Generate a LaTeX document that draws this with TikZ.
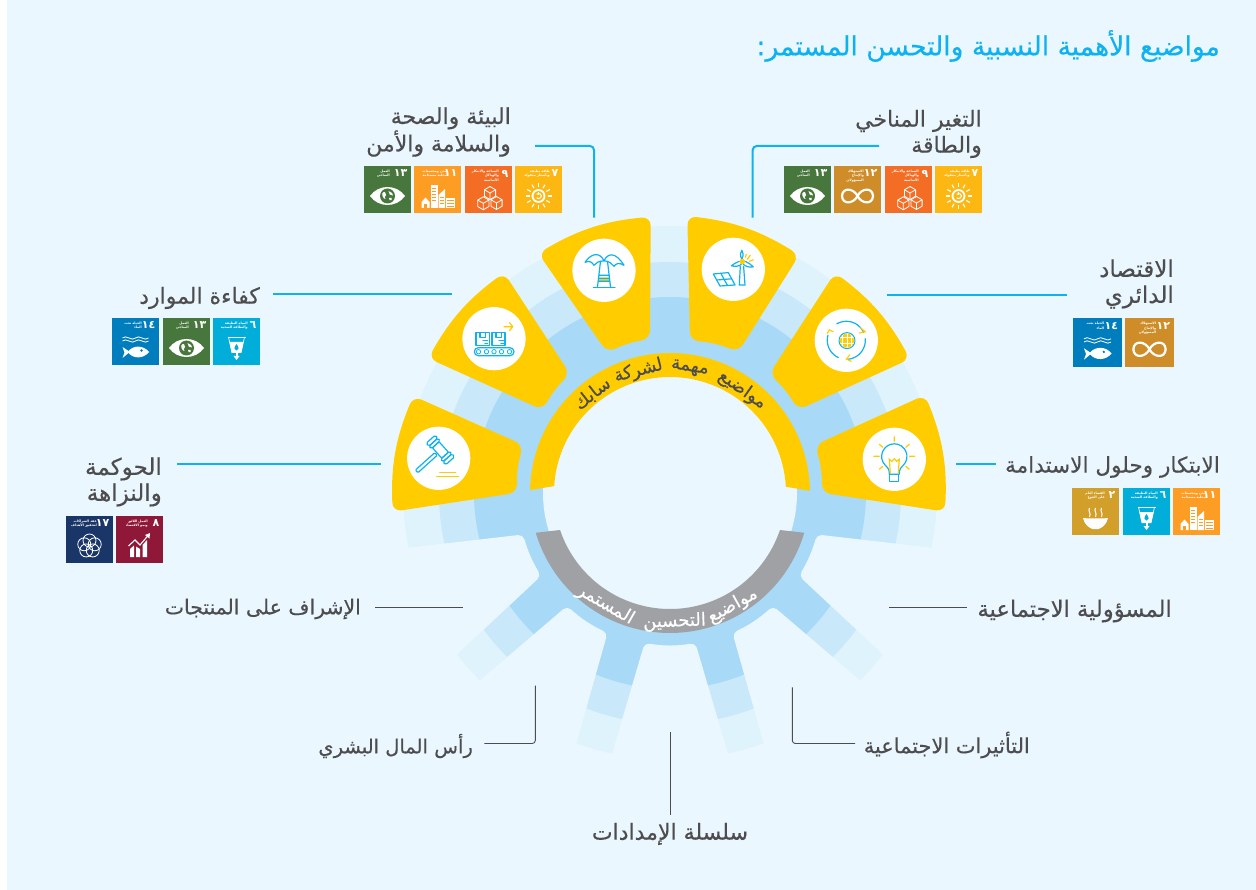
\documentclass[tikz,border=0pt]{standalone}
\usepackage{fontspec}
\newfontfamily\arfont[Script=Arabic,FakeBold=0.35,BoldFeatures={FakeBold=0}]{DejaVu Sans}
\TeXXeTstate=1
\newcommand\ar[1]{\arfont\beginR #1\endR}
\definecolor{panel}{HTML}{EBF7FE}
\definecolor{ringa}{HTML}{DFF3FC}
\definecolor{ringb}{HTML}{C9E8FA}
\definecolor{ringc}{HTML}{A8DAF7}
\definecolor{gold}{HTML}{FFCC00}
\definecolor{greyband}{HTML}{A0A1A5}
\definecolor{skyline}{HTML}{0FB2F0}
\definecolor{inktext}{HTML}{4D4D4F}
\definecolor{sdgtwo}{HTML}{D19F2A}
\definecolor{sdgsix}{HTML}{00AED9}
\definecolor{sdgseven}{HTML}{FDB713}
\definecolor{sdgeight}{HTML}{8F1838}
\definecolor{sdgnine}{HTML}{F36D25}
\definecolor{sdgeleven}{HTML}{FD9D24}
\definecolor{sdgtwelve}{HTML}{CF8D2A}
\definecolor{sdgthirteen}{HTML}{48773E}
\definecolor{sdgfourteen}{HTML}{007DBC}
\definecolor{sdgseventeen}{HTML}{1A3668}
\newcount\sdgc
\newcommand\sdg[8]{%
 \global\advance\sdgc by 1
 \begin{scope}[shift={(#1,#2)},scale=#3/47]
  \fill[#4] (0,0) rectangle (47,47);
  \node[sdgnum,anchor=east] (sn\the\sdgc) at (43.5,7.5) {\ar{#5}};
  \node[sdgcap,anchor=north east] (sc\the\sdgc) at (#6,3.4) {#7};
  \begin{scope}[shift={(23.5,30)}]
   \def\sdgcol{#4}
   #8
  \end{scope}
 \end{scope}}
\tikzset{
 x=1pt,y=-1pt,
 sdgnum/.style={text=white,font=\fontsize{11}{11}\bfseries\selectfont,inner sep=0pt},
 sdgcap/.style={text=white,font=\fontsize{3.3}{4.8}\bfseries\selectfont,inner sep=0pt,align=right},
 petal/.style={fill=gold,rounded corners=9pt},
 disk/.style={fill=white},
 icb/.style={draw=skyline,line width=1.2pt,line join=round,line cap=round},
 icy/.style={draw=gold,line width=1.2pt,line cap=round},
 gap/.style={fill=panel,rounded corners=5pt},
 lead/.style={draw=skyline,line width=2pt,rounded corners=4pt},
 thin lead/.style={draw=inktext,line width=0.9pt,rounded corners=3pt},
 lab/.style={text=inktext,font=\fontsize{22}{26}\selectfont,inner sep=0pt,align=right},
 arcword/.style={font=\fontsize{18}{18}\selectfont,inner sep=0pt},
}
\newcommand\picsun{%
 \draw[white,line width=1.8pt] (0,0) circle (6);
 \draw[white,line width=1pt] (-1.8,-1.6) arc[start angle=-140,end angle=140,radius=2.6];
 \draw[white,line width=1pt] (0,-3.6) -- (0,-0.8);
 \foreach \a in {0,30,...,330}{\draw[white,line width=1.1pt] (\a:9) -- (\a:13);}}
\newcommand\oneCube[2]{%
 \draw[white,line width=.8pt,line join=round,fill=\sdgcol] (#1,#2-6.5)--(#1+5.6,#2-3.2)--(#1+5.6,#2+3.2)--(#1,#2+6.5)--(#1-5.6,#2+3.2)--(#1-5.6,#2-3.2)--cycle;
 \draw[white,line width=.8pt] (#1-5.6,#2-3.2)--(#1,#2)--(#1+5.6,#2-3.2) (#1,#2)--(#1,#2+6.5);}
\newcommand\piccubes{\oneCube{1.5}{-3}\oneCube{-5.2}{7.3}\oneCube{8}{7}}
\newcommand\picinf{%
 \draw[white,line width=2.2pt] (0,0) .. controls (4,-8) and (15,-9) .. (15.5,0) .. controls (15,9) and (4,8) .. (0,0) .. controls (-4,-8) and (-15,-9) .. (-15.5,0) .. controls (-15,9) and (-4,8) .. (0,0);}
\newcommand\piceye{%
 \fill[white] (-17.5,0) .. controls (-9,-12) and (9,-12) .. (17.5,0) .. controls (9,12) and (-9,12) .. cycle;
 \fill[\sdgcol] (0,0) circle (7.5);
 \fill[white] (-5,-3) .. controls (-3,-5.5) and (-1,-3) .. (-1.5,-1) .. controls (-3,0) and (-3,2) .. (-2,3) .. controls (-4,3) and (-6,-1) .. cycle;
 \fill[white] (1,-5) .. controls (4,-4) and (6,-2) .. (5.5,-.5) .. controls (3,0) and (1,-2) .. cycle;
 \fill[white] (1.5,2) .. controls (4,1) and (5,2) .. (4,4) .. controls (3,5) and (1,4) .. cycle;}
\newcommand\piccity{%
 \fill[white] (-16,12) -- (-16,6) -- (-12,1.5) -- (-8,6) -- (-8,12) -- cycle;
 \fill[\sdgcol] (-13.5,12) rectangle (-10.5,8);
 \fill[white] (-7,12) rectangle (0,-11);
 \foreach \yy in {-8,-5,-2,1,4}{\fill[\sdgcol] (-5.5,\yy) rectangle (-1.5,\yy+1.2);}
 \fill[white] (1,12) -- (1,-1) -- (7.5,-7) -- (7.5,12) -- cycle;
 \foreach \yy in {1,4,7}{\fill[\sdgcol] (2.5,\yy) rectangle (6,\yy+.9);}
 \fill[white] (8.5,12) rectangle (17,2);
 \foreach \yy in {4,7,10}{\fill[\sdgcol] (9.5,\yy) rectangle (16,\yy+.8);}}
\newcommand\picglass{%
 \draw[white,line width=.9pt] (-9,-11) -- (9,-11);
 \draw[white,line width=.7pt] (-8,-11) -- (-4.5,5) (8,-11) -- (4.5,5);
 \fill[white] (-7,-6) -- (7,-6) -- (4.5,5) -- (-4.5,5) -- cycle;
 \fill[\sdgcol] (0,-4) .. controls (3,-0.5) and (2.5,2.5) .. (0,2.5) .. controls (-2.5,2.5) and (-3,-0.5) .. cycle;
 \fill[white] (-1,5) rectangle (1,8);
 \fill[white] (-3,8) -- (3,8) -- (0,12) -- cycle;}
\newcommand\picfish{%
 \foreach \yy in {-10,-7}{\draw[white,line width=.8pt] (-13,\yy) .. controls (-11,\yy-1.5) and (-9,\yy-1.5) .. (-6.5,\yy) .. controls (-4,\yy+1.5) and (-2,\yy+1.5) .. (0,\yy) .. controls (2,\yy-1.5) and (4,\yy-1.5) .. (6.5,\yy) .. controls (9,\yy+1.5) and (11,\yy+1.5) .. (13,\yy);}
 \fill[white] (-13,-1) -- (-7,3) .. controls (-2,-3) and (8,-3) .. (13.5,4) .. controls (8,11) and (-2,11) .. (-7,5) -- (-13,10) -- (-11,4.5) -- cycle;
 \fill[\sdgcol] (6,2.5) circle (1.3);}
\newcommand\picchart{%
 \fill[white] (-9.5,3) -- (-5.5,-0.5) -- (-5.5,11) -- (-9.5,11) -- cycle;
 \fill[white] (-3.5,0.5) -- (0.5,3) -- (0.5,11) -- (-3.5,11) -- cycle;
 \fill[white] (3,-1) -- (7.5,-6) -- (7.5,11) -- (3,11) -- cycle;
 \draw[white,line width=1.1pt] (-11,0) -- (-4.5,-6) -- (0.5,-1) -- (9,-11);
 \fill[white] (10.5,-13) -- (10,-7.5) -- (5.5,-11) -- cycle;}
\newcommand\picflower{%
 \foreach \a in {-90,-18,54,126,198}{\draw[white,line width=.8pt] (\a:5.5) circle (6.5);}}
\newcommand\picbowl{%
 \fill[white] (-12.5,0) .. controls (-10,.6) and (10,.6) .. (12.5,0) .. controls (11,7) and (6,10) .. (3,11) -- (-3,11) .. controls (-6,10) and (-11,7) .. cycle;
 \foreach \xx in {-6,0,6}{\draw[white,line width=1pt] (\xx,-10) .. controls (\xx-2,-7) and (\xx+2,-5) .. (\xx,-1);}}
\begin{document}
\begin{tikzpicture}
\useasboundingbox (0,0) rectangle (1256,890);
\fill[white] (0,0) rectangle (1256,890);
\fill[panel] (7,0) rectangle (1256,890);
\coordinate (c) at (670,493);
% ring
\fill[ringa] (c) circle (267);
\fill[ringb] (c) circle (231);
\fill[ringc] (c) circle (196);
\fill[panel] (c) circle (127);
% gaps between spokes
\fill[gap] (523,534.5) to[bend right=7] (541,576) -- (420,689) -- (380,551) -- cycle;
\fill[gap] (567,606) to[bend right=8] (607.5,633) -- (566,780) -- (450,706) -- cycle;
\fill[gap] (644.6,643) to[bend right=9] (695.4,643) -- (738.6,790) -- (601.4,790) -- cycle;
\fill[gap] (732.5,633) to[bend right=8] (773,606) -- (890,706) -- (774,780) -- cycle;
\fill[gap] (799,576) to[bend right=7] (817,534.5) -- (960,551) -- (920,689) -- cycle;
% petals
\fill[petal] (687.3,216) to[bend left=12.5] (799.3,255) -- (738.3,352) to[bend right=9] (690,340.7) -- cycle;
\fill[petal] (835,272.7) to[bend left=12] (910,359) -- (798,410) to[bend right=8.5] (769.3,374) -- cycle;
\fill[petal] (925,395) to[bend left=12.5] (945,511.7) -- (821.7,492.7) to[bend right=9] (815,445) -- cycle;
\fill[petal] (538.3,253.3) to[bend left=12.5] (650.7,216.7) -- (650,339.3) to[bend right=9] (607.3,352.7) -- cycle;
\fill[petal] (428.3,358.3) to[bend left=12] (504,272.7) -- (570,374) to[bend right=8.5] (542.7,410) -- cycle;
\fill[petal] (392.7,511.7) to[bend left=12.5] (413.3,396) -- (523.3,445) to[bend right=9] (517.3,492.7) -- cycle;
% yellow and grey bands
\fill[gold] plot[domain=-178.8:-0.9,samples=80] ({670+140*cos(\x)},{493+140*sin(\x)}) -- plot[domain=-3.1:-176.6,samples=80] ({670+116*cos(\x)},{493+116*sin(\x)}) -- cycle;
\fill[greyband] plot[domain=16.5:163.5,samples=80] ({670+140*cos(\x)},{493+140*sin(\x)}) -- plot[domain=161.4:18.6,samples=80] ({670+116*cos(\x)},{493+116*sin(\x)}) -- cycle;
% curved words
\path (c) ++(-55:126) node[arcword,text=inktext,rotate=-35] (w1) {\ar{مواضيع}};
\path (c) ++(-81:126) node[arcword,text=inktext,rotate=-9] (w2) {\ar{مهمة}};
\path (c) ++(-104.5:126) node[arcword,text=inktext,rotate=14.5] (w3) {\ar{لشركة}};
\path (c) ++(-128:126) node[arcword,text=inktext,rotate=38] (w4) {\ar{سابك}};
\path (c) ++(61:129) node[arcword,text=white,rotate=29] (g1) {\ar{مواضيع}};
\path (c) ++(88:129) node[arcword,text=white,rotate=2] (g2) {\ar{التحسين}};
\path (c) ++(120:129) node[arcword,text=white,rotate=-30] (g3) {\ar{المستمر}};
% icon discs
\fill[disk] (733.3,269.3) circle (31.6);
\fill[disk] (604,270.3) circle (31.6);
\fill[disk] (494,338.7) circle (31.6);
\fill[disk] (438.7,458.3) circle (31.6);
\fill[disk] (846.3,340.3) circle (31.6);
\fill[disk] (894.3,459.3) circle (31.6);
% palm
\begin{scope}[shift={(604,270.3)}]
 \fill[gold] (-4.7,8) rectangle (4.7,11);
 \draw[icb] (-3.5,-9) -- (-6.5,16.5) (3.5,-9) -- (6.5,16.5) (-5,5) -- (5,5) (-4.6,8) -- (4.6,8) (-5,11) -- (5,11);
 \draw[icb] (-10.7,17) -- (11,17);
 \draw[icb] (0,-9.5) .. controls (-4,-18) and (-12,-18) .. (-19,-8) .. controls (-14,-10) and (-12,-8) .. (-10,-5) .. controls (-8,-8) and (-5,-9) .. (0,-9.5);
 \draw[icb] (0,-9.5) .. controls (4,-18) and (12,-18) .. (20,-5) .. controls (15,-8) and (12,-7) .. (10,-4) .. controls (8,-7) and (5,-9) .. (0,-9.5);
\end{scope}
% turbine and panel
\begin{scope}[shift={(733.3,269.3)}]
 \draw[icb] (7,-3) -- (6,15.7) -- (11.7,15.7) -- (10.3,-3);
 \draw[icb] (8.5,-10) .. controls (6.5,-14) and (7,-17) .. (8.5,-19) .. controls (10,-17) and (10.5,-14) .. (8.5,-10);
 \draw[icb] (6,-8) .. controls (3,-6.5) and (0,-5.5) .. (-2,-3.5) .. controls (2,-2.5) and (6,-3) .. (8,-5);
 \draw[icb] (12,-8) .. controls (15,-6) and (18,-5) .. (20,-2.5) .. controls (16,-1.5) and (12,-3) .. (10,-5);
 \fill[gold] (9,-7.7) circle (2.8);
 \draw[icy] (14,-10) -- (17,-14) (16,-8) -- (20,-9.5) (12,-12) -- (13,-15);
 \draw[icb] (-20,4.7) -- (-5,3.3) -- (1.7,15.7) -- (-13.3,16.7) -- cycle;
 \draw[icb] (-12.5,4) -- (-5.8,16.2) (-16.6,10.7) -- (-1.6,9.5);
\end{scope}
% globe and arrows
\begin{scope}[shift={(846.3,340.3)}]
 \draw[icb,line width=1pt] (.7,.3) circle (8);
 \begin{scope}
  \clip (.7,.3) circle (7);
  \fill[gold] (.7,.3) circle (7);
  \draw[white,line width=.7pt] (-6.5,-2.5) -- (8,-2.5) (-6.5,3) -- (8,3) (.7,-7) -- (.7,8) (-3.5,-7) -- (-3.5,8) (5,-7) -- (5,8);
 \end{scope}
 \draw[icb] plot[domain=-120:-25,samples=20] (\x:19);
 \draw[icb] plot[domain=-5:85,samples=20] (\x:19);
 \draw[icb] plot[domain=115:195,samples=20] (\x:19);
 \draw[icy,line width=1.1pt] (14,-12.5) -- (19,-8.5) -- (13,-7.3);
 \draw[icy,line width=1.1pt] (3.5,14.5) -- (0,18.8) -- (5,21);
 \draw[icy,line width=1.1pt] (-19,-6.5) -- (-17,-10.5) -- (-13,-8.5);
\end{scope}
% bulb
\begin{scope}[shift={(894.3,459.3)}]
 \draw[icb] (-5,15) .. controls (-5,10) and (-6,9) .. (-9,6) .. controls (-17,-2) and (-11,-15.5) .. (0,-15.5) .. controls (11,-15.5) and (17,-2) .. (9,6) .. controls (6,9) and (5,10) .. (5,15) -- cycle;
 \draw[icb] (-4.5,15) rectangle (4.5,22);
 \draw[icy] (-4,14) -- (-5,0) -- (-2.5,2) -- (0,-.5) -- (2.5,2) -- (5,0) -- (4,14);
 \draw[icy] (0,-22.5) -- (0,-18) (-15,-15) -- (-11.5,-12) (15,-15) -- (11.5,-12) (-20.5,-3) -- (-15,-3) (20.5,-3) -- (15,-3) (-15,10) -- (-11.5,7) (15,10) -- (11.5,7);
\end{scope}
% conveyor
\begin{scope}[shift={(494,338.7)}]
 \draw[icb] (-18,-6) rectangle (-4.7,6.7);
 \draw[icb] (-2,-6) rectangle (11,6.7);
 \draw[icb] (-14,-6) -- (-14,-1.5) -- (-8.5,-1.5) -- (-8.5,-6) (2,-6) -- (2,-1.5) -- (7.5,-1.5) -- (7.5,-6);
 \draw[icb] (-11,2) -- (-6.5,2) (-9,4.5) -- (-6.5,4.5) (5,2) -- (9.5,2) (7,4.5) -- (9.5,4.5);
 \draw[icb,rounded corners=4pt] (-19.7,9) rectangle (20,17);
 \foreach \xx in {-15.5,-7.5,0,7.5,15.5}{\draw[icb,line width=.8pt] (\xx,13) circle (2.2);}
 \draw[icy] (10,-12) -- (18.7,-12) (15.5,-16) -- (18.7,-12) -- (15.5,-8);
\end{scope}
% gavel
\begin{scope}[shift={(438.7,458.3)}]
 \begin{scope}[shift={(1.7,-8.3)},rotate=42]
  \draw[icb,rounded corners=1pt] (-32,-1.8) rectangle (-6,1.8);
  \draw[icb,rounded corners=1pt] (-4.5,-7) rectangle (4.5,7);
  \draw[icb,rounded corners=1.5pt] (-6,-10.5) rectangle (6,-7);
  \draw[icb,rounded corners=1.5pt] (-6,-14.5) rectangle (6,-10.5);
  \draw[icb,rounded corners=1.5pt] (-6,7) rectangle (6,10.5);
  \draw[icb,rounded corners=1.5pt] (-6,10.5) rectangle (6,14.5);
 \end{scope}
 \draw[icy] (1,14.3) -- (17,14.3) (-2,18.3) -- (20,18.3);
\end{scope}
% connectors
\coordinate (ca1) at (752.7,217.7); \coordinate (ca2) at (752.7,146); \coordinate (ca3) at (879,146);
\coordinate (cb1) at (535,146); \coordinate (cb2) at (594,146); \coordinate (cb3) at (594,217.7);
\coordinate (cc1) at (887,295.3); \coordinate (cc2) at (1067,295.3);
\coordinate (cd1) at (273,294); \coordinate (cd2) at (452,294);
\coordinate (ce1) at (177,464); \coordinate (ce2) at (381,464);
\coordinate (cf1) at (956,464); \coordinate (cf2) at (996,464);
\coordinate (cg1) at (889,607.5); \coordinate (cg2) at (967,607.5);
\coordinate (ch1) at (375,607.5); \coordinate (ch2) at (463,607.5);
\coordinate (ci1) at (535.3,685.7); \coordinate (ci2) at (535.3,743.5); \coordinate (ci3) at (484.3,743.5);
\coordinate (cj1) at (792.3,687.3); \coordinate (cj2) at (792.3,743.5); \coordinate (cj3) at (855,743.5);
\coordinate (ck1) at (670,732); \coordinate (ck2) at (670,815);
\draw[lead] (ca1) -- (ca2) -- (ca3);
\draw[lead] (cb1) -- (cb2) -- (cb3);
\draw[lead] (cc1) -- (cc2);
\draw[lead] (cd1) -- (cd2);
\draw[lead] (ce1) -- (ce2);
\draw[lead] (cf1) -- (cf2);
\draw[thin lead] (cg1) -- (cg2);
\draw[thin lead] (ch1) -- (ch2);
\draw[thin lead] (ci1) -- (ci2) -- (ci3);
\draw[thin lead] (cj1) -- (cj2) -- (cj3);
\draw[thin lead] (ck1) -- (ck2);
% texts
\node[text=skyline,font=\fontsize{26.5}{28}\selectfont,inner sep=0pt,anchor=east] (title) at (1220,46) {\ar{مواضيع الأهمية النسبية والتحسن المستمر:}};
\node[lab,anchor=east] (t1) at (982,134) {\ar{التغير المناخي}\\\ar{والطاقة}};
\node[lab,anchor=east] (t2) at (511,132) {\ar{البيئة والصحة}\\\ar{والسلامة والأمن}};
\node[lab,anchor=east,font=\fontsize{23}{26}\selectfont] (t3) at (1174,284) {\ar{الاقتصاد}\\\ar{الدائري}};
\node[lab,anchor=east] (t4) at (260,298) {\ar{كفاءة الموارد}};
\node[lab,anchor=east,font=\fontsize{21.6}{26}\selectfont] (t5) at (1220,467) {\ar{الابتكار وحلول الاستدامة}};
\node[lab,anchor=east,font=\fontsize{23}{26}\selectfont] (t6) at (162,482) {\ar{الحوكمة}\\\ar{والنزاهة}};
\node[lab,anchor=east,font=\fontsize{22.6}{26}\selectfont] (t7) at (1172,611) {\ar{المسؤولية الاجتماعية}};
\node[lab,anchor=east,font=\fontsize{20.4}{26}\selectfont] (t8) at (361,609) {\ar{الإشراف على المنتجات}};
\node[lab,anchor=east,font=\fontsize{20.9}{26}\selectfont] (t9) at (1030,745) {\ar{التأثيرات الاجتماعية}};
\node[lab,anchor=east,font=\fontsize{19.5}{26}\selectfont] (t10) at (473,746) {\ar{رأس المال البشري}};
\node[lab] (t11) at (670,834) {\ar{سلسلة الإمدادات}};
% SDG tiles
\newcommand\tileSeven[2]{\sdg{#1}{#2}{47}{sdgseven}{٧}{35}{\ar{طاقة نظيفة}\\\ar{وبأسعار معقولة}}{\picsun}}
\newcommand\tileNine[2]{\sdg{#1}{#2}{47}{sdgnine}{٩}{34}{\ar{الصناعة والابتكار}\\\ar{والهياكل}\\\ar{الأساسية}}{\piccubes}}
\newcommand\tileTwelve[3]{\sdg{#1}{#2}{#3}{sdgtwelve}{١٢}{30}{\ar{الاستهلاك}\\\ar{والإنتاج}\\\ar{المسؤولان}}{\picinf}}
\newcommand\tileThirteen[2]{\sdg{#1}{#2}{47}{sdgthirteen}{١٣}{26}{\ar{العمل}\\\ar{المناخي}}{\piceye}}
\newcommand\tileEleven[2]{\sdg{#1}{#2}{47}{sdgeleven}{١١}{33}{\ar{مدن ومجتمعات}\\\ar{محلية مستدامة}}{\piccity}}
\newcommand\tileSix[2]{\sdg{#1}{#2}{47}{sdgsix}{٦}{35}{\ar{المياه النظيفة}\\\ar{والنظافة الصحية}}{\picglass}}
\newcommand\tileFourteen[3]{\sdg{#1}{#2}{#3}{sdgfourteen}{١٤}{30}{\ar{الحياة تحت}\\\ar{الماء}}{\picfish}}
\newcommand\tileEight[2]{\sdg{#1}{#2}{47}{sdgeight}{٨}{32}{\ar{العمل اللائق}\\\ar{ونمو الاقتصاد}}{\picchart}}
\newcommand\tileSeventeen[2]{\sdg{#1}{#2}{47}{sdgseventeen}{١٧}{31}{\ar{عقد الشراكات}\\\ar{لتحقيق الأهداف}}{\picflower}}
\newcommand\tileTwo[2]{\sdg{#1}{#2}{47}{sdgtwo}{٢}{33}{\ar{القضاء التام}\\\ar{على الجوع}}{\picbowl}}
\tileThirteen{784}{166}\tileTwelve{834}{166}{47}\tileNine{885}{166}\tileSeven{935}{166}
\tileThirteen{364}{166}\tileEleven{414}{166}\tileNine{465}{166}\tileSeven{515}{166}
\tileFourteen{112}{318}{47}\tileThirteen{163}{318}\tileSix{213}{318}
\tileSeventeen{66}{516}\tileEight{116}{516}
\tileFourteen{1073}{318}{49}\tileTwelve{1125}{318}{49}
\tileTwo{1072}{488}\tileSix{1123}{488}\tileEleven{1173}{488}
\end{tikzpicture}
\end{document}
